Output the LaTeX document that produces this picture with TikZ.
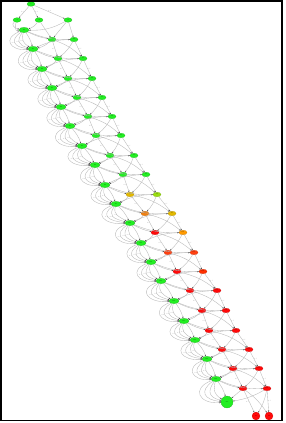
\documentclass[tikz,border=0pt]{standalone}
\usetikzlibrary{shapes.geometric,arrows.meta}
\definecolor{gr}{HTML}{22EE22}
\definecolor{goldA}{HTML}{E2B800}
\definecolor{ygr}{HTML}{99DD11}
\definecolor{orA}{HTML}{F08010}
\definecolor{orB}{HTML}{FF9A00}
\definecolor{roA}{HTML}{FF4010}
\definecolor{roB}{HTML}{FF3000}
\definecolor{rd}{HTML}{FF0A0A}
\begin{document}
\begin{tikzpicture}[x=1pt,y=-1pt,
  every node/.style={inner sep=0pt},
  nd/.style={ellipse,minimum width=8pt,minimum height=4.6pt,fill=#1,draw=#1!75!black,line width=0.15pt,font=\fontsize{1.3}{1.5}\selectfont},
  hubnd/.style={ellipse,minimum width=10pt,minimum height=5.5pt,fill=gr,draw=gr!70!black,line width=0.15pt,font=\fontsize{1.3}{1.5}\selectfont},
  ed/.style={draw=black!28,line width=0.35pt,-{Stealth[length=1.6pt,width=1.3pt,color=black!70]}},
  lbl/.style={font=\fontsize{1.6}{1.8}\selectfont,text=black!45}]
\useasboundingbox (0,0) rectangle (286,423);
\fill[white] (0,0) rectangle (286,423);
% nodes
\foreach \i/\hx/\hy/\lx/\rx/\lc/\rc in {
 0/24/30/52/74/gr/gr, 1/33/49/58/83/gr/gr, 2/42/69/68/92/gr/gr,
 3/52/88/77/102/gr/gr, 4/61/107/88/112/gr/gr, 5/70/126/96/121/gr/gr,
 6/82/146/110/134/gr/gr, 7/95/165/123/146/gr/gr, 8/105/185/130/157/goldA/ygr,
 9/116/204/145/172/orA/goldA, 10/130/223/155/183/rd/orB, 11/141/243/168/194/roA/roA,
 12/151/262/177/203/rd/roB, 13/161/281/190/217/rd/rd, 14/174/301/202/226/rd/rd,
 15/184/321/209/236/rd/rd, 16/195/340/222/249/rd/rd, 17/207/359/233/259/rd/rd,
 18/216/379/243/267/rd/rd}{
  \node[hubnd] (H\i) at (\hx,\hy) {h\i};
  \node[nd=\lc] (L\i) at (\lx,\hy+9.5) {a\i};
  \node[nd=\rc] (R\i) at (\rx,\hy+9.5) {b\i};
}
\node[nd=gr] (T) at (31,4) {s};
\node[nd=gr] (A1) at (17,20) {c1};
\node[nd=gr] (A2) at (39,20) {c2};
\node[nd=gr] (A3) at (68,20) {c3};
\node[circle,minimum size=12pt,fill=gr,draw=gr!70!black,line width=0.15pt,font=\fontsize{1.3}{1.5}\selectfont] (B) at (227,402) {end};
\node[circle,minimum size=8pt,fill=rd,draw=rd!75!black,line width=0.15pt,font=\fontsize{1.3}{1.5}\selectfont] (X1) at (256,416) {x1};
\node[circle,minimum size=8pt,fill=rd,draw=rd!75!black,line width=0.15pt,font=\fontsize{1.3}{1.5}\selectfont] (X2) at (269,416) {x2};
% top edges
\draw[ed] (T) -- node[lbl,left]{0.3} (A1);
\draw[ed] (T) -- node[lbl,right]{0.3} (A2);
\draw[ed] (T) -- node[lbl,above]{0.4} (A3);
\draw[ed] (A1) to[out=250,in=190,looseness=1.2] (H0);
\draw[ed] (A1) to[out=215,in=170,looseness=1.4] (H0);
\draw[ed] (A2) to[bend left=20] (H0);
\draw[ed] (A2) -- (L0);
\draw[ed] (A3) to[bend left=15] (H0);
\draw[ed] (A3) -- (L0);
\draw[ed] (A3) -- (R0);
% level edges
\foreach \i in {0,...,17}{
  \pgfmathtruncatemacro\j{\i+1}
  \draw[ed] (H\i) to[out=255,in=150,looseness=1.2] node[lbl,left]{0.2} (H\j);
  \draw[ed] (H\i) to[out=235,in=165,looseness=1.6] node[lbl,left]{0.2} (H\j);
  \draw[ed] (H\i) to[out=215,in=175,looseness=2.0] node[lbl,left]{0.1} (H\j);
  \draw[ed] (H\i) to[out=200,in=185,looseness=2.4] (H\j);
  \draw[ed] (H\i) to[bend left=10] (H\j);
  \draw[ed] (L\i) -- node[lbl,left]{0.5} (L\j);
  \draw[ed] (R\i) -- node[lbl,right]{0.5} (R\j);
  \draw[ed] (L\i) to[bend left=12] (R\j);
  \draw[ed] (R\i) to[bend left=10] (L\j);
  \draw[ed] (L\i) to[bend left=15] (H\j);
  \draw[ed] (R\i) to[bend right=12] node[lbl,above,sloped]{0.1} (H\j);
}
\foreach \i in {0,...,18}{
  \draw[ed] (H\i) to[bend right=8] (L\i);
  \draw[ed] (H\i) to[bend right=12] (R\i);
}
% bottom edges
\draw[ed] (H18) to[out=255,in=150,looseness=1.2] (B);
\draw[ed] (H18) to[out=235,in=165,looseness=1.6] (B);
\draw[ed] (H18) to[out=215,in=175,looseness=2.0] (B);
\draw[ed] (H18) to[out=200,in=185,looseness=2.4] (B);
\draw[ed] (H18) to[bend left=10] (B);
\draw[ed] (L18) -- (B);
\draw[ed] (R18) to[bend left=10] (B);
\draw[ed] (L18) -- node[lbl,left]{0.5} (X1);
\draw[ed] (R18) -- node[lbl,right]{0.5} (X2);
\draw[ed] (L18) to[bend left=10] (X2);
\draw[ed] (R18) to[bend left=10] (X1);
% frame
\draw[line width=1.5pt] (1,1) rectangle (282,420.5);
\end{tikzpicture}
\end{document}
